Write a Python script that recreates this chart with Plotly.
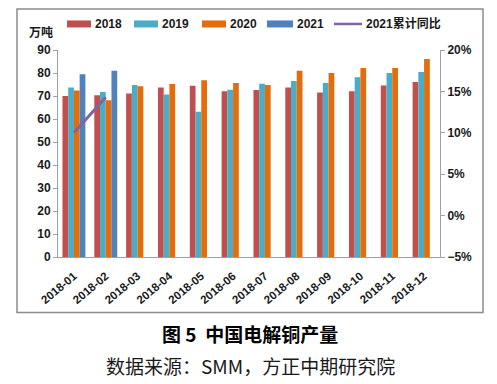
import plotly.graph_objects as go

months = ["2018-01", "2018-02", "2018-03", "2018-04", "2018-05", "2018-06",
          "2018-07", "2018-08", "2018-09", "2018-10", "2018-11", "2018-12"]
y2018 = [70.0, 70.3, 71.1, 73.7, 74.5, 72.1, 72.6, 73.7, 71.5, 72.1, 74.6, 76.1]
y2019 = [73.7, 71.7, 74.8, 70.7, 63.1, 72.7, 75.3, 76.5, 75.7, 78.2, 80.0, 80.4]
y2020 = [72.4, 68.2, 74.2, 75.2, 76.9, 75.7, 74.8, 81.0, 80.0, 82.2, 82.2, 86.1]
y2021 = [79.5, 81.0, None, None, None, None, None, None, None, None, None, None]
yoy2021 = [10.0, 14.3, None, None, None, None, None, None, None, None, None, None]

series_names = ["2018", "2019", "2020", "2021"]
line_name = "2021累计同比"
colors = {"2018": "#C0504D", "2019": "#4BACC6", "2020": "#E46C0A", "2021": "#4F81BD",
          line_name: "#8064A2"}

W, H = 497, 384
OFF = 8  # page body margin offset
# plot area in page pixels: x 58..440, y 50..256.7
L = 58 - OFF
T = 50 - OFF
R = W - (440 - OFF)
B = H - (256.7 - OFF)
pw, ph = W - L - R, H - T - B


def px(x):
    return (x - OFF - L) / pw


def py(y):
    return (H - B - (y - OFF)) / ph


fig = go.Figure()
for name, vals in zip(series_names, [y2018, y2019, y2020, y2021]):
    fig.add_trace(go.Bar(x=months, y=vals, name=name, marker_color=colors[name],
                         marker_line_width=0, showlegend=False))
fig.add_trace(go.Scatter(x=months, y=yoy2021, name=line_name, yaxis="y2",
                         mode="lines", line=dict(color=colors[line_name], width=3),
                         showlegend=False))

tickfont = dict(family="Liberation Sans, Arial", size=12, color="#1a1a1a", weight="bold")

fig.update_layout(
    width=W, height=H,
    margin=dict(l=L, r=R, t=T, b=B, autoexpand=False),
    paper_bgcolor="white", plot_bgcolor="white",
    barmode="group", bargap=0.28, bargroupgap=0,
    showlegend=False,
    font=dict(family="Liberation Sans, Arial"),
    xaxis=dict(type="category", showline=True, linecolor="#a0a0a0", linewidth=1,
               ticks="", tickangle=-40, ticklabelstandoff=7,
               tickfont=dict(family="Liberation Sans, Arial", size=11.5, color="#1a1a1a", weight="bold"),
               showgrid=False, automargin=False),
    yaxis=dict(range=[0, 90], dtick=10, showline=True, linecolor="#a0a0a0", linewidth=1,
               ticks="outside", ticklen=4, tickcolor="#a0a0a0", showgrid=False,
               zeroline=False, tickfont=tickfont, automargin=False),
    yaxis2=dict(range=[-5, 20], dtick=5, overlaying="y", side="right", showline=True,
                linecolor="#a0a0a0", linewidth=1, ticks="outside", ticklen=4,
                tickcolor="#a0a0a0", showgrid=False, zeroline=False,
                ticksuffix="%", tickfont=tickfont, automargin=False),
)

# chart frame
fig.add_shape(type="rect", xref="paper", yref="paper", x0=px(17), x1=px(483),
              y0=py(312), y1=py(9), line=dict(color="#8c8c8c", width=1.5),
              fillcolor="rgba(0,0,0,0)", layer="below")

# custom legend (wide swatches like the original)
legend_y = 24
legend_items = [("2018", 67, 91, "bar"), ("2019", 134, 158, "bar"),
                ("2020", 202, 226, "bar"), ("2021", 267, 293, "bar"),
                (line_name, 334, 362, "line")]
lfont = dict(family="Liberation Sans, Noto Sans CJK SC", size=12, color="#1a1a1a", weight="bold")
for name, x0, x1, kind in legend_items:
    if kind == "bar":
        fig.add_shape(type="rect", xref="paper", yref="paper", x0=px(x0), x1=px(x1),
                      y0=py(legend_y + 3.5), y1=py(legend_y - 3.5),
                      fillcolor=colors[name], line=dict(width=0))
    else:
        fig.add_shape(type="line", xref="paper", yref="paper", x0=px(x0), x1=px(x1),
                      y0=py(legend_y), y1=py(legend_y),
                      line=dict(color=colors[name], width=2.5))
    fig.add_annotation(text=name, xref="paper", yref="paper", x=px(x1 + 2), y=py(legend_y),
                       xanchor="left", yanchor="middle", showarrow=False, font=lfont)

fig.add_annotation(text="万吨", xref="paper", yref="paper", x=px(27), y=py(32),
                   xanchor="left", yanchor="middle", showarrow=False,
                   font=dict(family="Noto Sans CJK SC", size=12, color="#1a1a1a", weight="bold"))

fig.add_annotation(text="<b>图 5  中国电解铜产量</b>", xref="paper", yref="paper",
                   x=px(250), y=py(333), xanchor="center", yanchor="middle", showarrow=False,
                   font=dict(family="Noto Sans CJK SC", size=19, color="#000000"))
fig.add_annotation(text="数据来源：SMM，方正中期研究院", xref="paper", yref="paper",
                   x=px(250), y=py(365), xanchor="center", yanchor="middle", showarrow=False,
                   font=dict(family="Noto Sans CJK SC", size=19, color="#1a1a1a"))

fig.write_html("out.html")
